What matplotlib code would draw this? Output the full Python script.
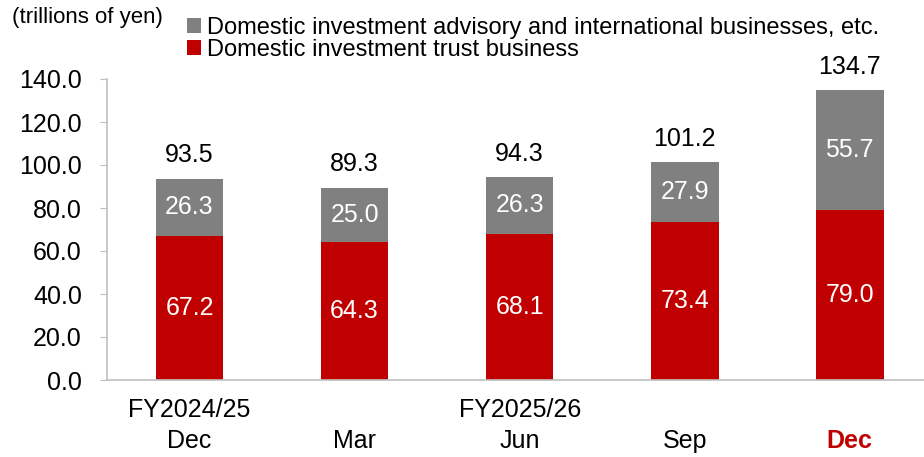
import matplotlib.pyplot as plt
import numpy as np

plt.rcParams['font.family'] = ['Liberation Sans', 'DejaVu Sans']

periods = ["Dec", "Mar", "Jun", "Sep", "Dec"]
fy_labels = ["FY2024/25", "", "FY2025/26", "", ""]
trust = [67.2, 64.3, 68.1, 73.4, 79.0]
advisory = [26.3, 25.0, 26.3, 27.9, 55.7]
totals = [93.5, 89.3, 94.3, 101.2, 134.7]

red = "#C00000"
gray = "#808080"
axis_col = "#BFBFBF"

fig = plt.figure(figsize=(9.24, 4.57), dpi=100)
ax = fig.add_axes([107/924, 1 - 380/457, 1 - 107/924, (380 - 79)/457])

x = np.arange(len(periods))
w = 0.41
ax.bar(x, trust, w, color=red, label="Domestic investment trust business")
ax.bar(x, advisory, w, bottom=trust, color=gray,
       label="Domestic investment advisory and international businesses, etc.")

for i in range(len(x)):
    ax.text(x[i], trust[i] / 2, f"{trust[i]:.1f}", ha="center", va="center",
            color="white", fontsize=18)
    ax.text(x[i], trust[i] + advisory[i] / 2, f"{advisory[i]:.1f}", ha="center",
            va="center", color="white", fontsize=18)
    ax.text(x[i], totals[i] + 11, f"{totals[i]:.1f}", ha="center", va="center",
            color="black", fontsize=18)

ax.set_xlim(-0.5, 4.45)
ax.set_ylim(0, 140)
ax.set_yticks(np.arange(0, 141, 20))
ax.set_yticklabels([f"{v:.1f}" for v in np.arange(0, 141, 20)], fontsize=18)
ax.tick_params(axis="y", length=5, color=axis_col, pad=13)
ax.tick_params(axis="x", length=0)
ax.set_xticks(x)
ax.set_xticklabels([])

for i in range(len(x)):
    if fy_labels[i]:
        ax.text(x[i], -14, fy_labels[i], ha="center", va="center", fontsize=18,
                clip_on=False)
    last = i == len(x) - 1
    ax.text(x[i], -28.5, periods[i], ha="center", va="center", fontsize=18,
            color=red if last else "black", fontweight="bold" if last else "normal",
            clip_on=False)

for s in ["top", "right"]:
    ax.spines[s].set_visible(False)
ax.spines["left"].set_color(axis_col)
ax.spines["bottom"].set_color(axis_col)
ax.spines["left"].set_linewidth(1.2)
ax.spines["bottom"].set_linewidth(1.2)

handles, labels = ax.get_legend_handles_labels()
fig.legend(handles[::-1], labels[::-1], loc="upper left", bbox_to_anchor=(170/924, 1.0),
           frameon=False, fontsize=17, handlelength=0.6, handleheight=0.6,
           handletextpad=0.25, labelspacing=0.0, borderaxespad=0.3)

fig.text(12/924, 1 - 17/457, "(trillions of yen)", fontsize=16, va="center", ha="left")

fig.savefig("out.png", dpi=100)
